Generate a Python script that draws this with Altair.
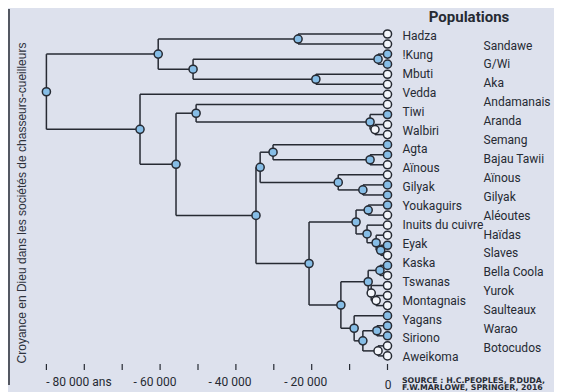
import altair as alt
import pandas as pd

# ---------------- data ----------------
LEAVES = ["Hadza", "Sandawe", "!Kung", "G/Wi", "Mbuti", "Aka", "Vedda", "Andamanais",
          "Tiwi", "Aranda", "Walbiri", "Semang", "Agta", "Bajau Tawii", "Aïnous", "Gilyak",
          "Youkaguirs", "Aléoutes", "Inuits du cuivre", "Haïdas", "Eyak", "Slaves", "Kaska",
          "Bella Coola", "Tswanas", "Yurok", "Montagnais", "Saulteaux", "Yagans", "Warao",
          "Siriono", "Botocudos", "Aweikoma"]
# 1 = belief in God present (blue), 0 = absent (white)
LEAF_BLUE = [0, 0, 1, 1, 0, 0, 0, 0, 1, 0, 0, 1, 1, 0, 0, 1, 1, 1, 0, 0, 0, 1, 0,
             1, 0, 0, 0, 0, 1, 1, 1, 0, 0]

NODE_NAMES = ["root", "B", "A", "C", "kung", "mbuti", "D", "F", "E", "G", "H", "I", "J",
              "K", "L", "M", "N", "O", "Q", "R", "S", "Y", "Y2", "T", "Z", "Zb", "Zc",
              "Zd", "U", "V", "W", "X"]
NODE_AGE = [-90000, -60500, -23600, -51300, -2500, -18900, -65300, -55800, -50500, -4600,
            -3300, -34700, -33600, -30200, -4600, -13000, -6500, -20700, -8300, -5100,
            -5400, -3000, -1800, -12300, -5100, -2000, -4300, -3000, -8800, -6500, -2800,
            -2500]
NODE_KIDS = [["B", "D"], ["A", "C"], [0, 1], ["kung", "mbuti"], [2, 3], [4, 5], [6, "F"],
             ["E", "I"], [7, "G"], [8, "H"], [9, 10], ["J", "O"], ["K", "M"], [11, "L"],
             [12, 13], [14, "N"], [15, 16], ["Q", "T"], ["R", "S"], [17, 18], [19, "Y"],
             [20, "Y2"], [21, 22], ["Z", "U"], ["Zb", "Zc"], [23, 24], [25, "Zd"], [26, 27],
             [28, "V"], ["W", "X"], [29, 30], [31, 32]]
NODE_BLUE = [1, 1, 1, 1, 1, 1, 1, 1, 1, 1, 0, 1, 1, 1, 1, 1, 1, 1, 1, 1, 1, 1, 1, 1, 1,
             1, 0, 0, 1, 1, 1, 0]

LABELS_COL1 = ["Hadza", "!Kung", "Mbuti", "Vedda", "Tiwi", "Walbiri", "Agta", "Aïnous",
               "Gilyak", "Youkaguirs", "Inuits du cuivre", "Eyak", "Kaska", "Tswanas",
               "Montagnais", "Yagans", "Siriono", "Aweikoma"]
LABELS_COL2 = ["Sandawe", "G/Wi", "Aka", "Andamanais", "Aranda", "Semang", "Bajau Tawii",
               "Aïnous", "Gilyak", "Aléoutes", "Haïdas", "Slaves", "Bella Coola", "Yurok",
               "Saulteaux", "Warao", "Botocudos"]

TICK_YEARS = [-90000, -80000, -70000, -60000, -50000, -40000, -30000, -20000, -10000, 0]
LABEL_YEARS = [-80000, -60000, -40000, -20000, 0]
LABEL_TEXTS = ["- 80 000 ans", "- 60 000", "- 40 000", "- 20 000", "0"]

# ---------------- layout constants ----------------
W, H = 546, 376
X0_PX = 379.5            # pixel of year 0
PX_PER_YEAR = 37.9 / 10000
Y_TOP_PX = 25.0           # pixel of first leaf
LEAF_STEP = 10.06         # pixels between leaves
LABEL_STEP = 18.9         # pixels between labels of a column

BLUE = "#86bde6"
WHITE = "#f4f6fb"
INK = "#262a33"
FONT_N = "Roboto, Liberation Sans, sans-serif"

x_dom = [-X0_PX / PX_PER_YEAR, (W - X0_PX) / PX_PER_YEAR]
y_d0 = -Y_TOP_PX / LEAF_STEP
y_dom = [y_d0, y_d0 + H / LEAF_STEP]
xs = alt.Scale(domain=x_dom, nice=False, zero=False)
ys = alt.Scale(domain=y_dom, nice=False, zero=False, reverse=True)

# ---------------- tree geometry ----------------
idx = {n: i for i, n in enumerate(NODE_NAMES)}


def pos(ref):
    if isinstance(ref, int):
        return 0.0, float(ref)
    i = idx[ref]
    ys_ = [pos(c)[1] for c in NODE_KIDS[i]]
    return float(NODE_AGE[i]), sum(ys_) / len(ys_)


segs = []
nodes = []
for i, n in enumerate(NODE_NAMES):
    px, py = pos(n)
    kids = [pos(c) for c in NODE_KIDS[i]]
    kys = [k[1] for k in kids]
    segs.append(dict(x=px, x2=px, y=min(kys), y2=max(kys)))
    for kx, ky in kids:
        segs.append(dict(x=px, x2=kx, y=ky, y2=ky))
    nodes.append(dict(x=px, y=py, fill=BLUE if NODE_BLUE[i] else WHITE))
for j in range(len(LEAVES)):
    nodes.append(dict(x=0.0, y=float(j), fill=BLUE if LEAF_BLUE[j] else WHITE))

seg_df = pd.DataFrame(segs)
node_df = pd.DataFrame(nodes)


def px_to_unit(p):
    return (p - Y_TOP_PX) / LEAF_STEP


lab_rows = []
for k, t in enumerate(LABELS_COL1):
    lab_rows.append(dict(t=t, y=px_to_unit(27 + k * LABEL_STEP), col=1))
for k, t in enumerate(LABELS_COL2):
    lab_rows.append(dict(t=t, y=px_to_unit(36.5 + k * LABEL_STEP), col=2))
lab_df = pd.DataFrame(lab_rows)

tick_df = pd.DataFrame(dict(x=TICK_YEARS))
label_shift_px = [0, -5, -6, -6, 0.5]
tl_df = pd.DataFrame(dict(x=[y + s / PX_PER_YEAR for y, s in zip(LABEL_YEARS, label_shift_px)],
                          t=LABEL_TEXTS, yy=[373, 373, 373, 373, 376], yr=LABEL_YEARS))

# ---------------- layers ----------------
lines = alt.Chart(seg_df).mark_rule(color=INK, strokeWidth=1.5).encode(
    x=alt.X("x:Q", scale=xs, axis=None), x2="x2:Q",
    y=alt.Y("y:Q", scale=ys, axis=None), y2="y2:Q")

dots = alt.Chart(node_df).mark_point(shape="circle", filled=True, size=66,
                                      stroke=INK, strokeWidth=1.5, opacity=1).encode(
    x=alt.X("x:Q", scale=xs), y=alt.Y("y:Q", scale=ys),
    fill=alt.Fill("fill:N", scale=None))

labels1 = alt.Chart(lab_df[lab_df.col == 1]).mark_text(
    align="left", baseline="middle", dx=15, font=FONT_N, fontSize=12, color=INK).encode(
    x=alt.value(X0_PX), y=alt.Y("y:Q", scale=ys), text="t:N")
labels2 = alt.Chart(lab_df[lab_df.col == 2]).mark_text(
    align="left", baseline="middle", dx=96, font=FONT_N, fontSize=12, color=INK).encode(
    x=alt.value(X0_PX), y=alt.Y("y:Q", scale=ys), text="t:N")

title = alt.Chart(pd.DataFrame(dict(t=["Populations"]))).mark_text(
    align="center", baseline="middle", font=FONT_N, fontSize=15, fontWeight="bold",
    color=INK).encode(x=alt.value(461), y=alt.value(8), text="t:N")

ticks = alt.Chart(tick_df).mark_rule(color=INK, strokeWidth=1.2).encode(
    x=alt.X("x:Q", scale=xs), y=alt.value(355), y2=alt.value(361))

tick_labels = alt.Chart(tl_df[tl_df.yr != -80000]).mark_text(
    align="center", baseline="middle", font=FONT_N, fontSize=12, color=INK).encode(
    x=alt.X("x:Q", scale=xs), y=alt.Y("yy:Q", scale=None), text="t:N")
tick_label80 = alt.Chart(tl_df[tl_df.yr == -80000]).mark_text(
    align="left", baseline="middle", dx=-38, font=FONT_N, fontSize=12, color=INK).encode(
    x=alt.X("x:Q", scale=xs), y=alt.Y("yy:Q", scale=None), text="t:N")

side_line = alt.Chart(pd.DataFrame(dict(a=[0]))).mark_rule(color=INK, strokeWidth=1.5).encode(
    x=alt.value(1), y=alt.value(0), y2=alt.value(H))

side_title = alt.Chart(pd.DataFrame(dict(t=["Croyance en Dieu dans les sociétés de chasseurs-cueilleurs"]))).mark_text(
    angle=270, align="center", baseline="middle", font="Liberation Sans, Arial, sans-serif",
    fontSize=12, color="#2e323c").encode(x=alt.value(14), y=alt.value(194), text="t:N")

source = alt.Chart(pd.DataFrame(dict(t=["SOURCE : H.C.PEOPLES, P.DUDA,",
                                        "F.W.MARLOWE, SPRINGER, 2016"],
                                     yy=[371.5, 379]))).mark_text(
    align="left", baseline="middle", font="DejaVu Sans, sans-serif",
    fontSize=7.8, fontWeight="bold", color=INK).encode(
    x=alt.value(394), y=alt.Y("yy:Q", scale=None), text="t:N")

chart = alt.layer(side_line, side_title, lines, dots, labels1, labels2, title, ticks,
                  tick_labels, tick_label80, source).properties(
    width=W, height=H, padding=0, background="#dde1ed"
).configure_view(stroke=None)

chart.save("out.html", embed_options={"renderer": "svg", "actions": False})
